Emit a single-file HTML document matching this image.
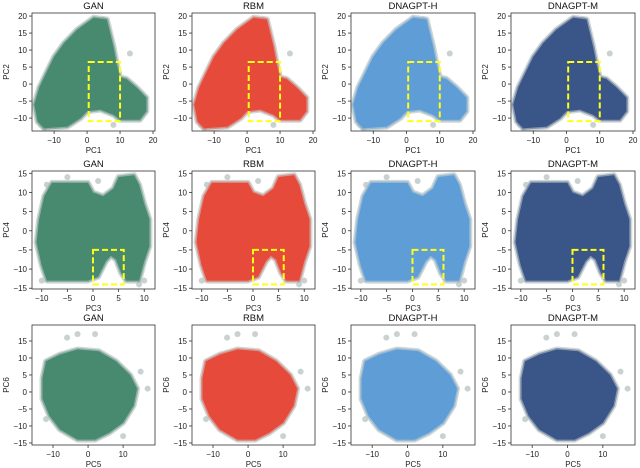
<!DOCTYPE html>
<html><head><meta charset="utf-8">
<style>
html,body{margin:0;padding:0;background:#fff;width:640px;height:468px;overflow:hidden}
svg{display:block;font-family:"Liberation Sans","DejaVu Sans",sans-serif}
</style></head>
<body>
<svg id="fig" width="640" height="468" viewBox="0 0 640 468" xmlns="http://www.w3.org/2000/svg"></svg>
<script>
// ---- data ----
const models = ["GAN","RBM","DNAGPT-H","DNAGPT-M"];
const modelColors = ["#488a70","#e64a3a","#5e9dd6","#3a5587"];
const xLabels = ["PC1","PC3","PC5"];
const yLabels = ["PC2","PC4","PC6"];
const xDomains = [[-16.7,20.6],[-11.9,12.1],[-16,19.1]];
const yDomains = [[-13.8,20.9],[-15.2,15.6],[-15.6,19.7]];
const xTicks = [[-10,0,10,20],[-10,-5,0,5,10],[-10,0,10]];
const yTicks = [[-10,-5,0,5,10,15,20],[-15,-10,-5,0,5,10,15],[-15,-10,-5,0,5,10,15]];
// cloud outlines (data space)
const cloudPC12 = [[-15,-11],[-13,-13],[-6,-12.5],[-2,-10],[0,-8],[4,-7.5],[8,-9],[10,-10.5],[16,-10.5],[18,-8],[18,-4],[15,-1],[12,1.5],[10,2],[9,6],[8,11],[7,15],[6,19],[2,19.5],[-3,16],[-7,12],[-10,8],[-12.5,3],[-14.5,-1],[-16,-6]];
const cloudPC34 = [[-9,-13],[-1,-13],[1,-12],[2.5,-8],[3.5,-6.5],[4.5,-7.5],[5.5,-11],[6.5,-13],[9,-13],[10,-8],[11,-4],[11,3],[10,7],[9,12],[8,14.5],[5,14],[4,11],[2,9],[0,10],[-1,12.5],[-8,12.5],[-9.5,9],[-10.5,3],[-11,-3],[-10,-9]];
const cloudPC56 = [[-12,9],[-8,11],[-3,12.5],[3,12],[8,9],[12,5],[14,1],[13,-4],[10,-9],[6,-12],[2,-14],[-3,-14],[-8,-11],[-11,-7],[-13,-2],[-13,4]];
const clouds = [cloudPC12, cloudPC34, cloudPC56];
// scattered outlier points
const outliersX = [[13,-13,8,5,-14,3],[-5,1,-10,10,9,-9],[-3,-6,2,15,17,-12,1,10]];
const outliersY = [[9,-13,-12,19,-12,18],[14,13,-13,-13,-14,12],[17,16,17,6,1,-8,-13,-13]];
// highlight boxes [x0,x1,y0,y1]
const boxes = [[0.5,10,-10.9,6.5],[0,6,-14,-5],null];
// ---- layout ----
const colX = [[32,155],[192,315],[351,475],[511,635]];
const rowY = [[13,131],[171,289],[325,445]];
const NS="http://www.w3.org/2000/svg";
const svg=document.getElementById('fig');
function mk(t,a,p){const e=document.createElementNS(NS,t);for(const k in a)e.setAttribute(k,a[k]);(p||svg).appendChild(e);return e;}

for(let r=0;r<3;r++){
  for(let c=0;c<4;c++){
    const [x0,x1]=colX[c],[y0,y1]=rowY[r];
    const xd=xDomains[r],yd=yDomains[r];
    const sx=v=>x0+(v-xd[0])/(xd[1]-xd[0])*(x1-x0);
    const sy=v=>y1-(v-yd[0])/(yd[1]-yd[0])*(y1-y0);
    const g=mk('g',{});
    
    
    const clipId='clip'+r+'_'+c;
    const cp=mk('clipPath',{id:clipId},g);
    mk('rect',{x:x0,y:y0,width:x1-x0,height:y1-y0},cp);
    const pg=mk('g',{'clip-path':'url(#'+clipId+')'},g);
    const pts=clouds[r].map(p=>sx(p[0]).toFixed(1)+','+sy(p[1]).toFixed(1)).join(' ');
    const ref=mk('polygon',{points:pts,fill:'#bcc6c5',stroke:'#bcc6c5','stroke-width':6,'stroke-opacity':0.7,'stroke-linejoin':'round'},pg);
    
    
    for(let i=0;i<outliersX[r].length;i++){
      const o=mk('circle',{cx:sx(outliersX[r][i]),cy:sy(outliersY[r][i]),r:3,fill:'#bcc6c5','fill-opacity':0.8},pg);
      
      
    }
    const gen=mk('polygon',{points:pts,fill:modelColors[c],stroke:modelColors[c],'stroke-width':3,'stroke-opacity':0.5,'stroke-linejoin':'round'},pg);
    
    
    if(boxes[r]){const b=boxes[r];
      const bx=mk('rect',{x:sx(b[0]),y:sy(b[3]),width:sx(b[1])-sx(b[0]),height:sy(b[2])-sy(b[3]),fill:'none',stroke:'#ffff1a','stroke-width':2,'stroke-dasharray':'6,3'},pg);
      
      
    }
    const fr=mk('rect',{x:x0,y:y0,width:x1-x0,height:y1-y0,fill:'none',stroke:'#333','stroke-width':0.8},g);
    
    
    xTicks[r].forEach(v=>{const X=sx(v);
      mk('line',{x1:X,x2:X,y1:y1,y2:y1+3,stroke:'#333','stroke-width':0.8},g);
      const t=mk('text',{x:X,y:y1+12,'font-size':8,'text-anchor':'middle',fill:'#222'},g);
      t.textContent=v<0?'\u2212'+(-v):String(v);
      
      });
    yTicks[r].forEach(v=>{const Y=sy(v);
      mk('line',{x1:x0-3,x2:x0,y1:Y,y2:Y,stroke:'#333','stroke-width':0.8},g);
      const t=mk('text',{x:x0-5,y:Y+3,'font-size':8,'text-anchor':'end',fill:'#222'},g);
      t.textContent=v<0?'\u2212'+(-v):String(v);
      
      });
    const ti=mk('text',{x:(x0+x1)/2,y:y0-4,'font-size':9.5,'text-anchor':'middle',fill:'#111'},g);
    ti.textContent=models[c];
    
    
    const xl=mk('text',{x:(x0+x1)/2,y:y1+22,'font-size':8,'text-anchor':'middle',fill:'#222'},g);
    xl.textContent=xLabels[r];
    
    
    const yx=x0-23,yy=(y0+y1)/2;
    const yl=mk('text',{x:yx,y:yy,'font-size':8,'text-anchor':'middle',fill:'#222',transform:'rotate(-90 '+yx+' '+yy+')'},g);
    yl.textContent=yLabels[r];
    
    
  }
}
</script>
</body></html>
